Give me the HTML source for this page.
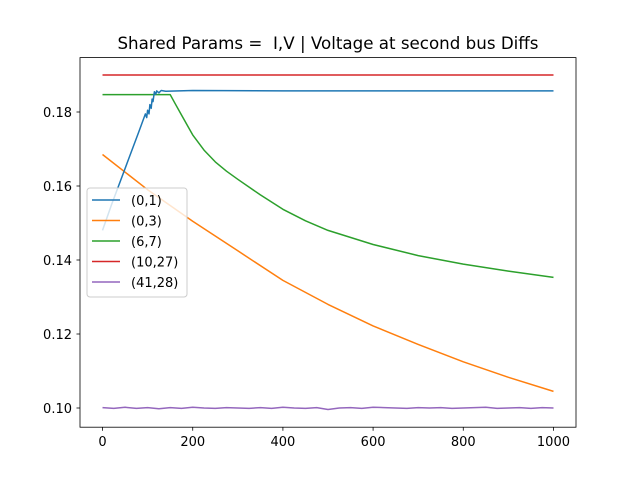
<!DOCTYPE html>
<html><head><meta charset="utf-8"><style>
body{margin:0;background:#fff;}
svg{font-family:"DejaVu Sans","Liberation Sans",sans-serif;}
</style></head><body>
<svg id="c" width="640" height="480" xmlns="http://www.w3.org/2000/svg"></svg>
<script>
const xTicks=[0,200,400,600,800,1000];
const yTicks=[0.10,0.12,0.14,0.16,0.18];
const seriesNames=["(0,1)","(0,3)","(6,7)","(10,27)","(41,28)"];
const colors=["#1f77b4","#ff7f0e","#2ca02c","#d62728","#9467bd"];
const xs01=[0,20,40,60,80,95,98,100,103,105,108,110,112,115,118,120,125,130,140,200,400,600,800,1000];
const ys01=[0.148,0.155,0.1615,0.168,0.1745,0.1795,0.1785,0.1805,0.1795,0.182,0.181,0.1835,0.1828,0.1855,0.1848,0.1857,0.1852,0.1858,0.1856,0.1858,0.1857,0.1857,0.1857,0.1857];
const xs03=[0,100,200,300,400,500,600,700,800,900,1000];
const ys03=[0.1685,0.159,0.1505,0.1425,0.1345,0.128,0.1222,0.1172,0.1125,0.1083,0.1045];
const xs67=[0,150,160,175,200,225,250,275,300,350,400,450,500,600,700,800,900,1000];
const ys67=[0.1847,0.1847,0.1825,0.1792,0.1738,0.1697,0.1665,0.164,0.1618,0.1576,0.1537,0.1506,0.148,0.1442,0.1412,0.1389,0.137,0.1353];
const xs1027=[0,1000];
const ys1027=[0.19,0.19];
const xs4128=[0,25,50,75,100,125,150,175,200,225,250,275,300,325,350,375,400,425,450,475,500,525,550,575,600,625,650,675,700,725,750,775,800,825,850,875,900,925,950,975,1000];
const ys4128=[0.1001,0.0999,0.1002,0.0999,0.1001,0.0998,0.1001,0.0999,0.1002,0.1,0.0999,0.1001,0.1,0.0999,0.1001,0.0999,0.1002,0.1,0.0999,0.1001,0.0996,0.1,0.1001,0.0999,0.1002,0.1001,0.1,0.0999,0.1001,0.1,0.1001,0.0999,0.1,0.1001,0.1002,0.0999,0.1,0.1001,0.0999,0.1001,0.1];
const X=v=>80+(v+50)*496/1100;
const Y=v=>408-(v-0.10)*3700;
const svg=document.getElementById('c');
const NS="http://www.w3.org/2000/svg";
function mk(t,a,p){const e=document.createElementNS(NS,t);for(const k in a)e.setAttribute(k,a[k]);(p||svg).appendChild(e);return e;}
let r=mk('rect',{x:80,y:57.6,width:496,height:369.6,fill:'none',stroke:'#000','stroke-width':0.8});

let t=mk('text',{x:328,y:49,'text-anchor':'middle','font-size':16.7});t.setAttribute('xml:space','preserve');t.style.whiteSpace='pre';t.textContent="Shared Params =  I,V | Voltage at second bus Diffs";

xTicks.forEach(v=>{const x=X(v);
 let l=mk('line',{x1:x,x2:x,y1:427.2,y2:430.7,stroke:'#000','stroke-width':0.8});
 
 let tx=mk('text',{x:x,y:446,'text-anchor':'middle','font-size':13});tx.textContent=v;
 });
yTicks.forEach(v=>{const y=Y(v);
 let l=mk('line',{x1:76.5,x2:80,y1:y,y2:y,stroke:'#000','stroke-width':0.8});
 
 let tx=mk('text',{x:72,y:y+5,'text-anchor':'end','font-size':13});tx.textContent=v.toFixed(2);
 });
const data=[[xs01,ys01],[xs03,ys03],[xs67,ys67],[xs1027,ys1027],[xs4128,ys4128]];
const order=[1,2,3,4,0];
order.forEach(i=>{const [xs,ys]=data[i];
 const pts=xs.map((x,j)=>X(x).toFixed(1)+','+Y(ys[j]).toFixed(1)).join(' ');
 let p=mk('polyline',{points:pts,fill:'none',stroke:colors[i],'stroke-width':1.5,'stroke-linejoin':'round'});
 });
const g=mk('g',{});
mk('rect',{x:87,y:188,width:100,height:109,rx:3,fill:'#fff','fill-opacity':0.8,stroke:'#ccc'},g);
seriesNames.forEach((n,i)=>{const y=200+i*20.5;
 mk('line',{x1:92,x2:120,y1:y,y2:y,stroke:colors[i],'stroke-width':1.5},g);
 let tx=mk('text',{x:131,y:y+5,'font-size':13},g);tx.textContent=n;
 });
</script>
</body></html>
